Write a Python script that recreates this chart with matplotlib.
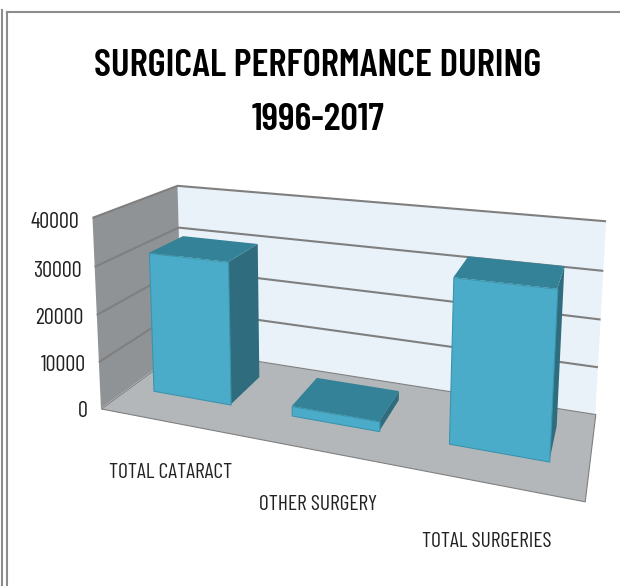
import numpy as np
import matplotlib
matplotlib.use('Agg')
from matplotlib import pyplot as plt
from matplotlib.lines import Line2D
from mpl_toolkits.mplot3d.art3d import Poly3DCollection, Line3DCollection

categories = ['TOTAL CATARACT', 'OTHER SURGERY', 'TOTAL SURGERIES']
values = [30500, 2000, 32500]
ticks = [0, 10000, 20000, 30000, 40000]
title = 'SURGICAL PERFORMANCE DURING\n1996-2017'

z_max = 40000
bar_w = 0.58
bar_mid = 0.47
bar_step = 1.012
y_front, y_back = 0.33, 0.76

plt.rcParams['font.family'] = ['Barlow Condensed', 'Liberation Sans', 'DejaVu Sans']

# camera: box corners (x, depth, z/zmax) and where they sit on the picture
box = np.array([[0, 0, 0], [3, 0, 0], [0, 1, 0], [3, 1, 0],
                [0, 0, 1], [0, 1, 1], [3, 1, 1]], dtype=float)
pix = np.array([[102, 408], [584, 503], [181, 350], [596, 412],
                [92, 217], [178, 186], [606, 222]], dtype=float)

A, b = [], []
for (X, Y, Z), (u, v) in zip(box, pix):
    A.append([X, Y, Z, 1, 0, 0, 0, 0, -u*X, -u*Y, -u*Z])
    A.append([0, 0, 0, 0, X, Y, Z, 1, -v*X, -v*Y, -v*Z])
    b += [u, v]
p = np.linalg.lstsq(np.array(A), np.array(b), rcond=None)[0]
P = np.append(p, 1).reshape(3, 4)
P[:, 2] /= z_max
M = np.array([P[0], P[1], [0, 1, 0, 0], P[2]])

fig = plt.figure(figsize=(6.2, 5.86), dpi=100)
ax = fig.add_axes([0, 0, 1, 1], projection='3d')
ax.computed_zorder = False
ax.get_proj = lambda: M
ax.apply_aspect = lambda position=None: None
ax.set_axis_off()
ax.viewLim.intervalx = (0, 620)
ax.viewLim.intervaly = (586, 0)


def face(verts, color, z, edge='none'):
    poly = Poly3DCollection([verts], facecolors=color, edgecolors=edge, linewidths=0.8, zorder=z)
    ax.add_collection3d(poly, autolim=False)


# walls and floor
face([(0, 1, 0), (3, 1, 0), (3, 1, z_max), (0, 1, z_max)], '#eaf2f9', 1)
face([(0, 0, 0), (0, 1, 0), (0, 1, z_max), (0, 0, z_max)], '#8f9396', 1)
face([(0, 0, 0), (3, 0, 0), (3, 1, 0), (0, 1, 0)], '#b3b7ba', 1, '#808080')

grid = []
for t in ticks:
    if t > 0:
        grid.append([(0, 0, t), (0, 1, t), (3, 1, t)])
    ax.text(-0.1, 0, t - 1200, str(t), ha='right', va='center', fontsize=16, color='#222222', zorder=5)
ax.add_collection3d(Line3DCollection(grid, colors='#7f7f7f', linewidths=1.5, zorder=2), autolim=False)

# bars
for i, val in enumerate(values):
    x0 = i*bar_step + bar_mid - bar_w/2
    x1 = i*bar_step + bar_mid + bar_w/2
    z = 3 + i*0.1
    face([(x1, y_front, 0), (x1, y_back, 0), (x1, y_back, val), (x1, y_front, val)], '#2f6c7e', z)
    face([(x0, y_front, val), (x1, y_front, val), (x1, y_back, val), (x0, y_back, val)], '#338297', z + 0.01)
    face([(x0, y_front, 0), (x1, y_front, 0), (x1, y_front, val), (x0, y_front, val)], '#4aacc9', z + 0.02, '#3b94ae')
    ax.text(i + 0.5, 0, -11000, categories[i], ha='center', va='center', fontsize=15.5, color='#222222', zorder=5)

fig.text(318/620, 1 - 93/586, title, ha='center', va='center', fontsize=28, fontweight='semibold',
         color='black', linespacing=1.77)

# picture frame
for xs, ys in [([7, 7], [12, 586]), ([7, 620], [12, 12]), ([2, 2], [10, 586])]:
    fig.add_artist(Line2D(np.array(xs)/620, 1 - np.array(ys)/586, color='#8c8c8c', lw=1.5))

fig.savefig('out.png', dpi=100)
